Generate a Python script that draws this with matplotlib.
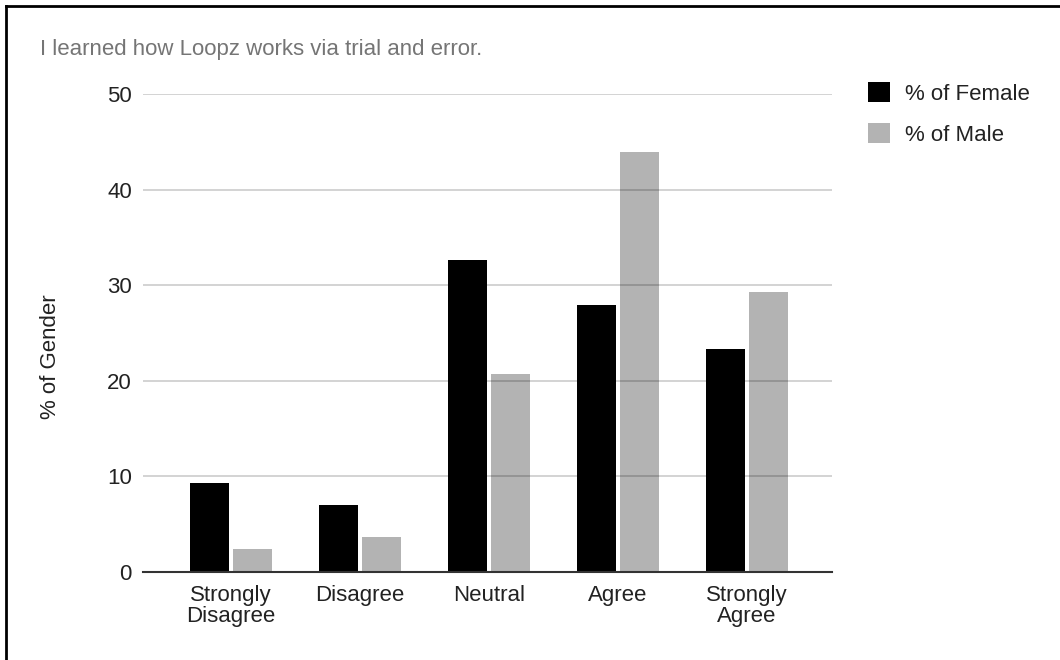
import matplotlib.pyplot as plt
from matplotlib.lines import Line2D
import numpy as np

# Data
categories = ['Strongly\nDisagree', 'Disagree', 'Neutral', 'Agree', 'Strongly\nAgree']
female = [9.3, 7.0, 32.6, 27.9, 23.3]
male = [2.4, 3.7, 20.7, 43.9, 29.3]
series_names = ['% of Female', '% of Male']
y_ticks = [0, 10, 20, 30, 40, 50]

plt.rcParams['font.family'] = ['Liberation Sans', 'DejaVu Sans']

fig = plt.figure(figsize=(10.6, 6.6), dpi=100)
ax = fig.add_axes([0.135, 0.1333, 0.65, 0.7243])

x = np.arange(len(categories))
w = 0.30
ax.bar(x - w / 2 - 0.016, female, width=w, color='#000000', label=series_names[0], zorder=2)
ax.bar(x + w / 2 + 0.016, male, width=w, color='#b3b3b3', label=series_names[1], zorder=2)

ax.set_xlim(-0.68, 4.66)
ax.set_ylim(0, 50)
ax.set_yticks(y_ticks)
ax.set_xticks(x)
ax.set_xticklabels(categories, fontsize=16, color='#222222', linespacing=1.0)
ax.tick_params(axis='y', length=0, pad=8, labelsize=16, labelcolor='#222222')
ax.tick_params(axis='x', length=0, pad=9)

# grid over the bars
ax.grid(axis='y', color='black', alpha=0.2, linewidth=1.2, zorder=3)
ax.set_axisbelow(False)
for s in ['top', 'right', 'left']:
    ax.spines[s].set_visible(False)
ax.spines['bottom'].set_color('#333333')
ax.spines['bottom'].set_linewidth(1.5)
ax.spines['bottom'].set_zorder(4)

fig.text(51 / 1060, 1 - 357 / 660, '% of Gender', rotation=90, fontsize=16,
         color='#222222', ha='center', va='center')

fig.text(40 / 1060, 1 - 49 / 660, 'I learned how Loopz works via trial and error.',
         fontsize=16, color='#757575', va='center', ha='left')

leg = ax.legend(loc='upper left', bbox_to_anchor=(868 / 1060, 1 - 82 / 660),
                bbox_transform=fig.transFigure, frameon=False, fontsize=16,
                handlelength=1.0, handleheight=1.0, handletextpad=0.68,
                labelspacing=0.85, borderaxespad=0, borderpad=0)
for t in leg.get_texts():
    t.set_color('#222222')

# frame on top and left edges
fig.add_artist(Line2D([6 / 1060, 1], [1 - 6 / 660, 1 - 6 / 660], color='black', linewidth=2,
                      transform=fig.transFigure))
fig.add_artist(Line2D([6 / 1060, 6 / 1060], [0, 1 - 6 / 660], color='black', linewidth=2,
                      transform=fig.transFigure))

fig.savefig('out.png', dpi=100)
